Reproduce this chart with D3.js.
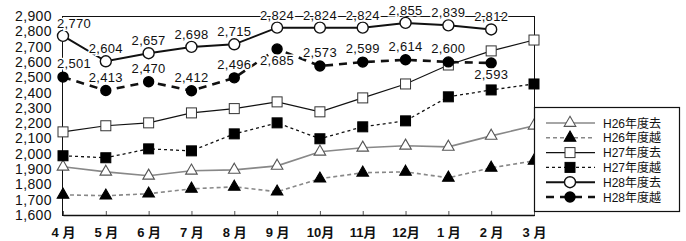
<!DOCTYPE html>
<html><head><meta charset="utf-8">
<script src="https://cdn.jsdelivr.net/npm/d3@7"></script>
<style>
body{margin:0;background:#fff;}
text{font-family:"Liberation Sans","Noto Sans CJK JP",sans-serif;fill:#111;}
</style></head><body>
<svg id="c" width="686" height="241"></svg>
<script>
const months = ["4月","5月","6月","7月","8月","9月","10月","11月","12月","1月","2月","3月"];
const monthLabels = ["4 月","5 月","6 月","7 月","8 月","9 月","10月","11月","12月","1 月","2 月","3 月"];
const yTicks = [1600,1700,1800,1900,2000,2100,2200,2300,2400,2500,2600,2700,2800,2900];
const seriesNames = ["H26年度去","H26年度越","H27年度去","H27年度越","H28年度去","H28年度越"];
const h26a = [1915,1882,1856,1889,1895,1921,2013,2039,2052,2045,2117,2183];
const h26b = [1732,1726,1739,1771,1784,1752,1837,1876,1882,1843,1908,1954];
const h27a = [2143,2183,2202,2267,2295,2339,2274,2365,2456,2580,2672,2743];
const h27b = [1987,1974,2032,2019,2130,2202,2098,2176,2215,2372,2417,2456];
const h28a = [2770,2604,2657,2698,2715,2824,2824,2824,2855,2839,2812];
const h28b = [2501,2413,2470,2412,2496,2685,2573,2599,2614,2600,2593];
const h28bLabelSide = ["above","above","above","above","above","below","above","above","above","above","below"];

const svg = d3.select("#c");
const x = d3.scalePoint().domain(months).range([63,534]);
const y = d3.scaleLinear().domain([1600,2900]).range([215,16]);

// frame
svg.append("rect").attr("x",62.5).attr("y",16.5).attr("width",534-62).attr("height",215-16)
  .attr("fill","none").attr("stroke","#111").attr("stroke-width",1);

const ya = svg.append("g").attr("transform","translate(62,0)")
  .call(d3.axisLeft(y).tickValues(yTicks).tickFormat(d3.format(",")).tickSize(0).tickPadding(10));
ya.select(".domain").remove();
ya.selectAll("text").attr("font-size",14).style("letter-spacing","0.4px");

const xa = svg.append("g").attr("transform","translate(0,215)")
  .call(d3.axisBottom(x).tickSizeInner(-4).tickSizeOuter(0).tickPadding(13).tickFormat((d,i)=>monthLabels[i]));
xa.select(".domain").attr("stroke","#111").attr("stroke-width",1.5);
xa.selectAll("line").attr("stroke","#555");
xa.selectAll("text").attr("font-size",13).attr("font-weight","bold");

const styles = [
  {data:h26a, stroke:"#888", width:1.6, dash:null, marker:"tri", fill:"#fff", ms:"#555"},
  {data:h26b, stroke:"#888", width:1.6, dash:"4,3", marker:"tri", fill:"#000", ms:"#000"},
  {data:h27a, stroke:"#111", width:1.1, dash:null, marker:"sq", fill:"#fff", ms:"#333"},
  {data:h27b, stroke:"#111", width:1.3, dash:"3,3", marker:"sq", fill:"#000", ms:"#000"},
  {data:h28a, stroke:"#111", width:2, dash:null, marker:"circ", fill:"#fff", ms:"#111"},
  {data:h28b, stroke:"#111", width:2.6, dash:"8,6", marker:"circ", fill:"#000", ms:"#000"}
];
function drawMarker(g, type, cx, cy, fill, stroke){
  if(type==="tri"){
    g.append("path").attr("d",d3.symbol(d3.symbolTriangle,58)()).attr("transform",`translate(${cx},${cy})`)
      .attr("fill",fill).attr("stroke",stroke).attr("stroke-width",1.1);
  } else if(type==="sq"){
    g.append("rect").attr("x",cx-5).attr("y",cy-5).attr("width",10).attr("height",10)
      .attr("fill",fill).attr("stroke",stroke).attr("stroke-width",1);
  } else {
    g.append("circle").attr("cx",cx).attr("cy",cy).attr("r",fill==="#fff"?5.5:5)
      .attr("fill",fill).attr("stroke",stroke).attr("stroke-width",1.4);
  }
}
const line = d3.line().x((d,i)=>x(months[i])).y(d=>y(d));
styles.forEach(s=>{
  const g = svg.append("g");
  g.append("path").attr("d",line(s.data)).attr("fill","none").attr("stroke",s.stroke)
    .attr("stroke-width",s.width).attr("stroke-dasharray",s.dash);
  s.data.forEach((v,i)=>drawMarker(g,s.marker,x(months[i]),y(v),s.fill,s.ms));
});

// value labels
const fmt = d3.format(",");
const lab = svg.append("g").attr("font-size",13).attr("text-anchor","middle");
h28a.forEach((v,i)=>{
  lab.append("text").attr("x",x(months[i])+(i===0?11:0)).attr("y",y(v)-8).text(fmt(v))
    .attr("stroke","#fff").attr("stroke-width",3).attr("paint-order","stroke").style("letter-spacing","0.3px");
});
h28b.forEach((v,i)=>{
  const above = h28bLabelSide[i]==="above";
  lab.append("text").attr("x",x(months[i])+(i===0?11:0)).attr("y",above?y(v)-9:y(v)+16).text(fmt(v))
    .attr("stroke","#fff").attr("stroke-width",3).attr("paint-order","stroke").style("letter-spacing","0.3px");
});

// legend
const lg = svg.append("g");
lg.append("rect").attr("x",534.5).attr("y",107.5).attr("width",145).attr("height",104)
  .attr("fill","#fff").attr("stroke","#111").attr("stroke-width",1.2);
styles.forEach((s,i)=>{
  const ly = 123 + i*14.8;
  lg.append("line").attr("x1",546).attr("x2",595).attr("y1",ly).attr("y2",ly)
    .attr("stroke",s.stroke).attr("stroke-width",s.width).attr("stroke-dasharray",s.dash);
  drawMarker(lg,s.marker,570,ly,s.fill,s.ms);
  lg.append("text").attr("x",603).attr("y",ly+4.5).attr("font-size",12).text(seriesNames[i]);
});
</script></body></html>
